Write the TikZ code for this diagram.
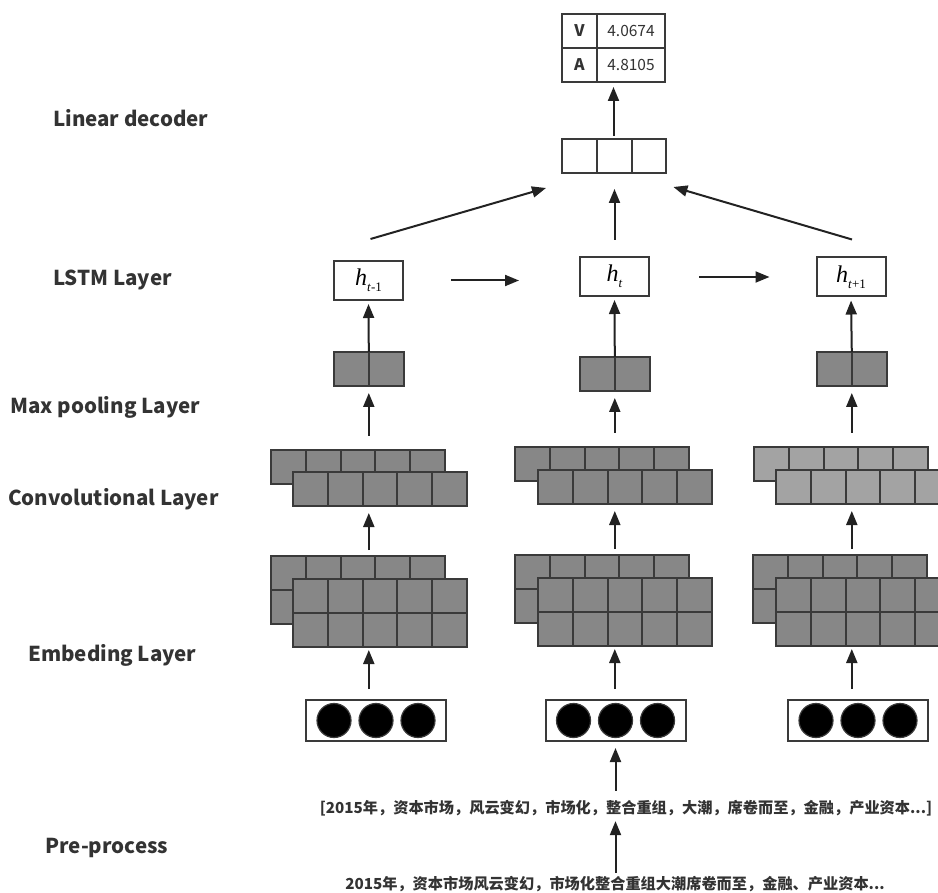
\documentclass[tikz,border=0pt]{standalone}
\usepackage{fontspec}
\newfontfamily\cjk{Noto Sans CJK SC}
\newfontfamily\serif{Liberation Serif}
\usetikzlibrary{arrows.meta,calc}
\definecolor{cellgray}{HTML}{878787}
\definecolor{lightcell}{HTML}{A3A3A3}
\definecolor{edge}{HTML}{3A3A3A}
\definecolor{ink}{HTML}{222222}
\definecolor{txt}{HTML}{333333}

% a block of square cells: name, left, top, columns, rows, fill
\newcommand\cellblock[6]{%
  \node[blockbox, fill=#6, minimum width=#4*34.8pt, minimum height=#5*34pt] (#1) at (#2,#3) {};
  \pgfmathtruncatemacro\lastcol{#4-1}
  \foreach \k in {1,...,\lastcol}
    \draw[blockline] ($(#1.north west)+(\k*34.8,0)$) -- ($(#1.south west)+(\k*34.8,0)$);
  \ifnum#5>1
    \draw[blockline] ($(#1.north west)+(0,34)$) -- ($(#1.north east)+(0,34)$);
  \fi
}
% hidden state label h with a subscript
\newcommand\hstate[1]{{\serif\fontsize{24}{24}\selectfont\textit{h}\raisebox{-6pt}{\fontsize{13}{13}\selectfont #1}}}

\begin{document}
\begin{tikzpicture}[x=1pt,y=-1pt,
  blockbox/.style={anchor=north west, draw=edge, line width=2pt, inner sep=0pt, outer sep=0pt},
  blockline/.style={draw=edge, line width=2pt},
  hbox/.style={draw=edge, line width=2pt, fill=white, minimum width=69pt, minimum height=39pt, inner sep=0pt},
  vecbox/.style={draw=edge, line width=2pt, fill=white, minimum width=140pt, minimum height=41pt, inner sep=0pt},
  dot/.style={fill=black, draw=edge, line width=1.2pt},
  arr/.style={-{Triangle[length=14pt,width=11pt]}, line width=2pt, draw=ink},
  layer/.style={anchor=west, inner sep=0pt, font=\cjk\bfseries\fontsize{20.5}{20.5}\selectfont, text=txt},
  zh/.style={inner sep=0pt, font=\cjk\bfseries\fontsize{15.2}{15.2}\selectfont, text=txt},
  val/.style={inner sep=0pt, font=\cjk\fontsize{15.5}{15.5}\selectfont, text=txt},
  key/.style={inner sep=0pt, font=\cjk\bfseries\fontsize{16}{16}\selectfont, text=txt}]
\path[use as bounding box, clip] (0,0) rectangle (938,893);

% layer names
\node[layer] (lDec)  at (53,118) {Linear decoder};
\node[layer] (lLstm) at (53,280) {LSTM Layer};
\node[layer] (lPool) at (10,407) {Max pooling Layer};
\node[layer] (lConv) at (8,499)  {Convolutional Layer};
\node[layer] (lEmb)  at (28,655) {Embeding Layer};
\node[layer] (lPre)  at (45,848) {Pre-process};

% output table
\node[blockbox, fill=white, minimum width=103pt, minimum height=68pt] (tab) at (562,14) {};
\draw[blockline] ($(tab.north west)+(35,0)$) -- ($(tab.south west)+(35,0)$);
\draw[blockline] ($(tab.north west)+(0,34)$) -- ($(tab.north east)+(0,34)$);
\node[key] (kV) at (579.5,31) {V};
\node[val] (vV) at (631,31) {4.0674};
\node[key] (kA) at (579.5,65) {A};
\node[val] (vA) at (631,65) {4.8105};

% decoder vector
\cellblock{dec}{562}{139}{3}{1}{white}

% LSTM states
\node[hbox] (hA) at (368.5,280.5) {\hstate{\textit{t}-1}};
\node[hbox] (hB) at (614.5,276.5) {\hstate{\textit{t}}};
\node[hbox] (hC) at (851,277)     {\hstate{\textit{t}+1}};

% max pooling
\cellblock{poolA}{334}{352}{2}{1}{cellgray}
\cellblock{poolB}{580}{357}{2}{1}{cellgray}
\cellblock{poolC}{817}{352}{2}{1}{cellgray}

% convolution feature maps (back row, then front row)
\cellblock{convAb}{271}{450}{5}{1}{cellgray}
\cellblock{convAf}{293}{472}{5}{1}{cellgray}
\cellblock{convBb}{515}{447}{5}{1}{cellgray}
\cellblock{convBf}{538}{470}{5}{1}{cellgray}
\cellblock{convCb}{754}{447}{5}{1}{lightcell}
\cellblock{convCf}{776}{470}{5}{1}{lightcell}

% embeddings
\cellblock{embAb}{271}{556}{5}{2}{cellgray}
\cellblock{embAf}{293}{579}{5}{2}{cellgray}
\cellblock{embBb}{515}{555}{5}{2}{cellgray}
\cellblock{embBf}{538}{578}{5}{2}{cellgray}
\cellblock{embCb}{753}{555}{5}{2}{cellgray}
\cellblock{embCf}{776}{578}{5}{2}{cellgray}

% one-hot word vectors
\node[vecbox] (circA) at (376,720.5) {};
\node[vecbox] (circB) at (615.5,720.5) {};
\node[vecbox] (circC) at (858,720.5) {};
\foreach \v in {circA,circB,circC}
  \foreach \d in {-42,0,42}
    \path[dot] ($(\v)+(\d,0)$) circle (17pt);

% input texts
\node[zh] (tok) at (626,808) {[2015年，资本市场，风云变幻，市场化，整合重组，大潮，席卷而至，金融，产业资本...]};
\node[zh] (raw) at (615,884) {2015年，资本市场风云变幻，市场化整合重组大潮席卷而至，金融、产业资本...};

% connectors
\draw[arr, shorten <=3pt, shorten >=5pt] (dec.north -| tab.south) -- (tab.south);
\draw[arr, shorten <=16pt, shorten >=16pt] (hB.north) -- (hB.north |- dec.south);
\draw[arr] ($(hA.north)+(2,-21)$) -- ($(dec.south west)+(-16,15)$);
\draw[arr] ($(hC.north)+(1,-17)$) -- ($(dec.south east)+(7,14)$);

\draw[arr, shorten <=47pt, shorten >=60pt] (hA.east) -- (hA.east -| hB.west);
\draw[arr, shorten <=49pt, shorten >=46pt] (hB.east |- hC.west) -- (hC.west);

\foreach \c in {A,B,C} {
  \draw[arr, shorten >=3pt] (pool\c.north) -- (h\c.south);
  \draw[arr, shorten <=14pt, shorten >=7pt] (pool\c.south |- conv\c b.north) -- (pool\c.south);
  \draw[arr, shorten <=6pt, shorten >=7pt] (pool\c.south |- emb\c b.north) -- (pool\c.south |- conv\c f.south);
  \draw[arr, shorten <=10pt, shorten >=3pt] (pool\c.south |- circ\c.north) -- (pool\c.south |- emb\c f.south);
}
\draw[arr, shorten <=9pt, shorten >=6pt] (tok.north -| circB) -- (circB.south);
\draw[arr, shorten <=3pt, shorten >=5pt] (raw.north -| circB) -- (tok.south -| circB);
\end{tikzpicture}
\end{document}
